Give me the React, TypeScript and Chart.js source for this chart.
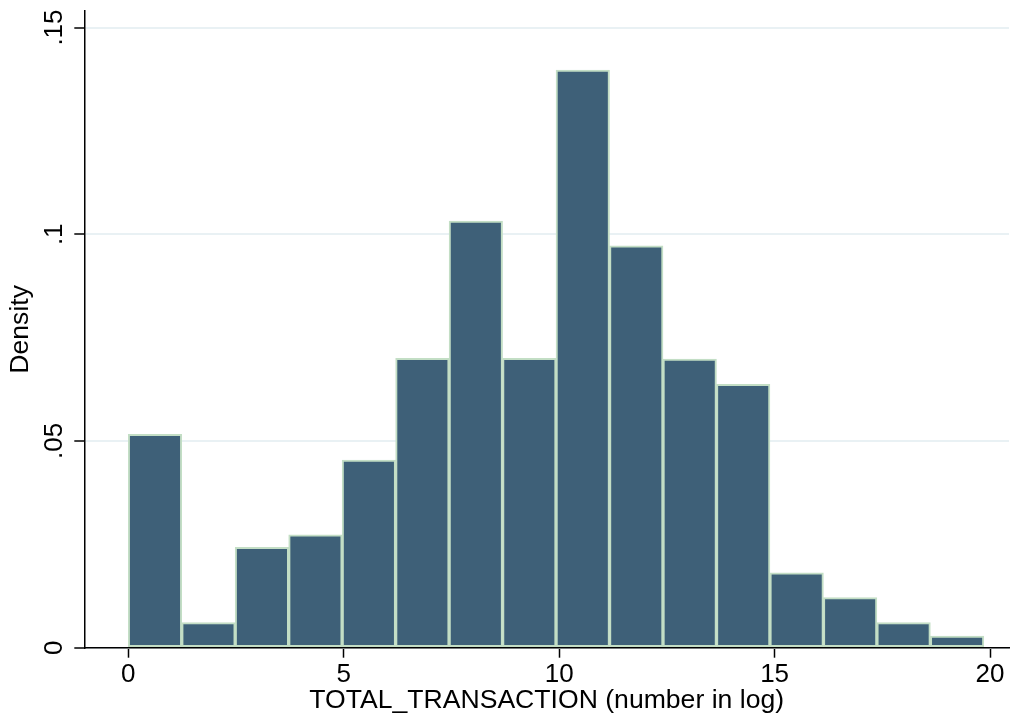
import React, { useEffect, useRef } from "react";
import { Chart, registerables } from "chart.js";

Chart.register(...registerables);

// Histogram bins: 16 bins starting at 0
const binStart = 0;
const binWidth = 1.241;
const densities = [
  0.0516, 0.0061, 0.0243, 0.0273, 0.0454, 0.07, 0.1032, 0.07,
  0.1397, 0.0972, 0.0698, 0.0637, 0.0181, 0.0121, 0.0061, 0.0028,
];
const xTicks = [0, 5, 10, 15, 20];
const yTicks = [0, 0.05, 0.1, 0.15];
const yTickLabels = ["0", ".05", ".1", ".15"];
const xTitle = "TOTAL_TRANSACTION (number in log)";
const yTitle = "Density";

const FONT = '"Liberation Sans", Arial, sans-serif';

export default function App() {
  const ref = useRef<HTMLCanvasElement | null>(null);

  useEffect(() => {
    document.body.style.margin = "0";
    const canvas = ref.current;
    if (!canvas) return;

    const yLabelPlugin = {
      id: "yRotLabels",
      afterDraw(chart: any) {
        const { ctx, scales } = chart;
        const y = scales.y;
        ctx.save();
        ctx.fillStyle = "#000";
        ctx.font = `26px ${FONT}`;
        ctx.textAlign = "center";
        ctx.textBaseline = "alphabetic";
        yTicks.forEach((v, i) => {
          const py = y.getPixelForValue(v);
          ctx.save();
          ctx.translate(62, py);
          ctx.rotate(-Math.PI / 2);
          ctx.fillText(yTickLabels[i], 0, 0);
          ctx.restore();
        });
        ctx.restore();
      },
    };

    const chart = new Chart(canvas, {
      type: "bar",
      data: {
        datasets: [
          {
            data: densities.map((d, i) => ({
              x: binStart + (i + 0.5) * binWidth,
              y: d,
            })),
            backgroundColor: "#3e6078",
            borderColor: "#c3dec5",
            borderWidth: 2,
            borderSkipped: false,
            barPercentage: 1,
            categoryPercentage: 1,
          },
        ],
      },
      options: {
        responsive: false,
        animation: false,
        layout: { padding: { top: 11, right: 2, left: 0, bottom: 0 } },
        plugins: {
          legend: { display: false },
          tooltip: { enabled: false },
        },
        scales: {
          x: {
            type: "linear",
            min: -1.02,
            max: 20.44,
            offset: false,
            afterBuildTicks: (s: any) => {
              s.ticks = xTicks.map((v) => ({ value: v }));
            },
            afterFit: (s: any) => {
              s.height = 73.3;
            },
            ticks: {
              color: "#000",
              font: { family: FONT, size: 26 },
              padding: 2,
              maxRotation: 0,
              autoSkip: false,
              callback: (v: any) => String(v),
            },
            grid: {
              offset: false,
              drawOnChartArea: false,
              drawTicks: true,
              tickLength: 10,
              tickColor: "#000",
              tickWidth: 1.5,
            },
            border: { display: true, color: "#000", width: 1.5 },
            title: {
              display: true,
              text: xTitle,
              color: "#000",
              font: { family: FONT, size: 26.6 },
              padding: { top: 0, bottom: 4 },
            },
          },
          y: {
            type: "linear",
            min: 0,
            max: 0.154,
            afterBuildTicks: (s: any) => {
              s.ticks = yTicks.map((v) => ({ value: v }));
            },
            afterFit: (s: any) => {
              s.width = 84.3;
            },
            ticks: { display: false },
            grid: {
              color: "#e9f1f4",
              lineWidth: 2,
              drawTicks: true,
              tickLength: 10,
              tickColor: "#000",
              tickWidth: 1.5,
            },
            border: { display: true, color: "#000", width: 1.5 },
            title: {
              display: true,
              text: yTitle,
              color: "#000",
              font: { family: FONT, size: 26.6 },
              padding: { top: 5, bottom: 0 },
            },
          },
        },
      },
      plugins: [yLabelPlugin],
    });

    return () => chart.destroy();
  }, []);

  return <canvas ref={ref} width={1011} height={721} />;
}
